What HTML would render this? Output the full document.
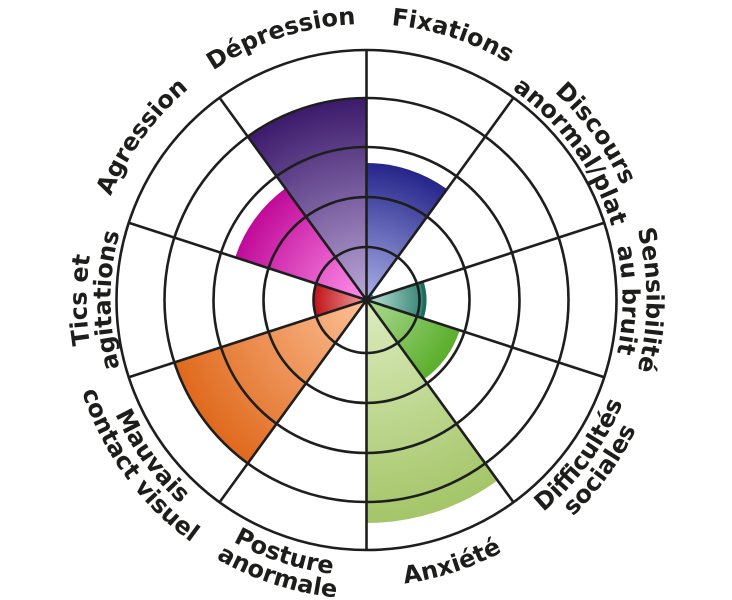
<!DOCTYPE html>
<html><head><meta charset="utf-8"><style>
html,body{margin:0;padding:0;background:#fff;}
svg{display:block;}
text{font-family:"DejaVu Sans","Liberation Sans",sans-serif;font-weight:bold;font-size:24px;fill:#1d1d1b;}
</style></head><body>
<svg width="732" height="600" viewBox="0 0 732 600" xmlns="http://www.w3.org/2000/svg">
<defs>
<radialGradient id="gFix" gradientUnits="userSpaceOnUse" cx="366.5" cy="300" r="137"><stop offset="0" stop-color="#aab0e8"/><stop offset="1" stop-color="#25258a"/></radialGradient>
<radialGradient id="gDep" gradientUnits="userSpaceOnUse" cx="366.5" cy="300" r="201"><stop offset="0" stop-color="#bba8d8"/><stop offset="1" stop-color="#3d1b6c"/></radialGradient>
<radialGradient id="gAgr" gradientUnits="userSpaceOnUse" cx="366.5" cy="300" r="138"><stop offset="0" stop-color="#ff92ec"/><stop offset="1" stop-color="#c00a98"/></radialGradient>
<radialGradient id="gTic" gradientUnits="userSpaceOnUse" cx="366.5" cy="300" r="52"><stop offset="0" stop-color="#f3a0a0"/><stop offset="1" stop-color="#c0161a"/></radialGradient>
<radialGradient id="gMau" gradientUnits="userSpaceOnUse" cx="366.5" cy="300" r="201"><stop offset="0" stop-color="#fcc096"/><stop offset="1" stop-color="#e06a1e"/></radialGradient>
<radialGradient id="gAnx" gradientUnits="userSpaceOnUse" cx="366.5" cy="300" r="223"><stop offset="0" stop-color="#dcecbe"/><stop offset="1" stop-color="#a4c568"/></radialGradient>
<radialGradient id="gDif" gradientUnits="userSpaceOnUse" cx="366.5" cy="300" r="98"><stop offset="0" stop-color="#acda94"/><stop offset="1" stop-color="#5aae2a"/></radialGradient>
<radialGradient id="gSen" gradientUnits="userSpaceOnUse" cx="366.5" cy="300" r="60"><stop offset="0" stop-color="#c0e4dc"/><stop offset="1" stop-color="#2e7f6e"/></radialGradient>

<path id="t276" d="M127.48,162 A276,276 0 0 1 605.52,162"/>
<path id="t280" d="M124.01,160 A280,280 0 0 1 608.99,160"/>
<path id="t256" d="M144.80,172 A256,256 0 0 1 588.20,172"/>
<path id="b286" d="M118.82,443 A286,286 0 0 0 614.18,443"/>
<path id="b276" d="M127.48,438 A276,276 0 0 0 605.52,438"/>
<path id="b299" d="M107.56,449.5 A299,299 0 0 0 625.44,449.5"/>
</defs>

<!-- wedges -->
<path d="M366.5,300 L366.5,163 A137,137 0 0 1 447.03,189.17 Z" fill="url(#gFix)"/>
<path d="M366.5,300 L371.2,293.53 A8,8 0 0 1 374.11,297.53 Z" fill="#1a8fb5"/>
<path d="M366.5,300 L423.57,281.46 A60,60 0 0 1 423.57,318.54 Z" fill="url(#gSen)"/>
<path d="M421.67,282.08 A58,58 0 0 1 421.67,317.92" fill="none" stroke="#1f6b5d" stroke-width="3.5"/>
<path d="M366.5,300 L459.71,330.28 A98,98 0 0 1 424.1,379.28 Z" fill="url(#gDif)"/>
<path d="M366.5,300 L497.58,480.41 A223,223 0 0 1 366.5,523 Z" fill="url(#gAnx)"/>
<path d="M366.5,300 L248.35,462.61 A201,201 0 0 1 175.33,362.11 Z" fill="url(#gMau)"/>
<path d="M366.5,300 L317.04,316.07 A52,52 0 0 1 317.04,283.93 Z" fill="url(#gTic)"/>
<path d="M366.5,300 L235.25,257.36 A138,138 0 0 1 285.38,188.36 Z" fill="url(#gAgr)"/>
<path d="M366.5,300 L248.35,137.39 A201,201 0 0 1 366.5,99 Z" fill="url(#gDep)"/>

<!-- grid -->
<g fill="none" stroke="#1e1e1e" stroke-width="2.6">
<circle cx="366.5" cy="300" r="53"/>
<circle cx="366.5" cy="300" r="103"/>
<circle cx="366.5" cy="300" r="153"/>
<circle cx="366.5" cy="300" r="202"/>
<circle cx="366.5" cy="300" r="250"/>
<line x1="366.5" y1="50" x2="366.5" y2="550"/>
<line x1="513.45" y1="97.75" x2="219.55" y2="502.25"/>
<line x1="604.28" y1="222.75" x2="128.72" y2="377.25"/>
<line x1="604.28" y1="377.25" x2="128.72" y2="222.75"/>
<line x1="513.45" y1="502.25" x2="219.55" y2="97.75"/>
</g>
<circle cx="366.5" cy="300" r="3.5" fill="#1e1e1e"/>

<!-- labels (top half: tops outward) -->
<text transform="rotate(18 366.5 300)"><textPath href="#t276" startOffset="50%" text-anchor="middle">Fixations</textPath></text>
<text transform="rotate(342 366.5 300)"><textPath href="#t276" startOffset="50%" text-anchor="middle">Dépression</textPath></text>
<text transform="rotate(306 366.5 300)"><textPath href="#t276" startOffset="50%" text-anchor="middle">Agression</textPath></text>
<text transform="rotate(54 366.5 300)"><textPath href="#t280" startOffset="50%" text-anchor="middle">Discours</textPath></text>
<text transform="rotate(54 366.5 300)"><textPath href="#t256" startOffset="50%" text-anchor="middle">anormal/plat</textPath></text>
<text transform="rotate(90 366.5 300)"><textPath href="#t280" startOffset="50%" text-anchor="middle">Sensibilité</textPath></text>
<text transform="rotate(90 366.5 300)"><textPath href="#t256" startOffset="50%" text-anchor="middle">au bruit</textPath></text>
<text transform="rotate(270 366.5 300)"><textPath href="#t280" startOffset="50%" text-anchor="middle">Tics et</textPath></text>
<text transform="rotate(270 366.5 300)"><textPath href="#t256" startOffset="50%" text-anchor="middle">agitations</textPath></text>

<!-- labels (bottom half: tops inward) -->
<text transform="rotate(-18 366.5 300)"><textPath href="#b286" startOffset="50%" text-anchor="middle">Anxiété</textPath></text>
<text transform="rotate(-54 366.5 300)"><textPath href="#b276" startOffset="50%" text-anchor="middle">Difficultés</textPath></text>
<text transform="rotate(-54 366.5 300)"><textPath href="#b299" startOffset="50%" text-anchor="middle">sociales</textPath></text>
<text transform="rotate(18 366.5 300)"><textPath href="#b276" startOffset="50%" text-anchor="middle">Posture</textPath></text>
<text transform="rotate(18 366.5 300)"><textPath href="#b299" startOffset="50%" text-anchor="middle">anormale</textPath></text>
<text transform="rotate(54 366.5 300)"><textPath href="#b276" startOffset="50%" text-anchor="middle">Mauvais</textPath></text>
<text transform="rotate(54 366.5 300)"><textPath href="#b299" startOffset="50%" text-anchor="middle">contact visuel</textPath></text>
</svg>
</body></html>
